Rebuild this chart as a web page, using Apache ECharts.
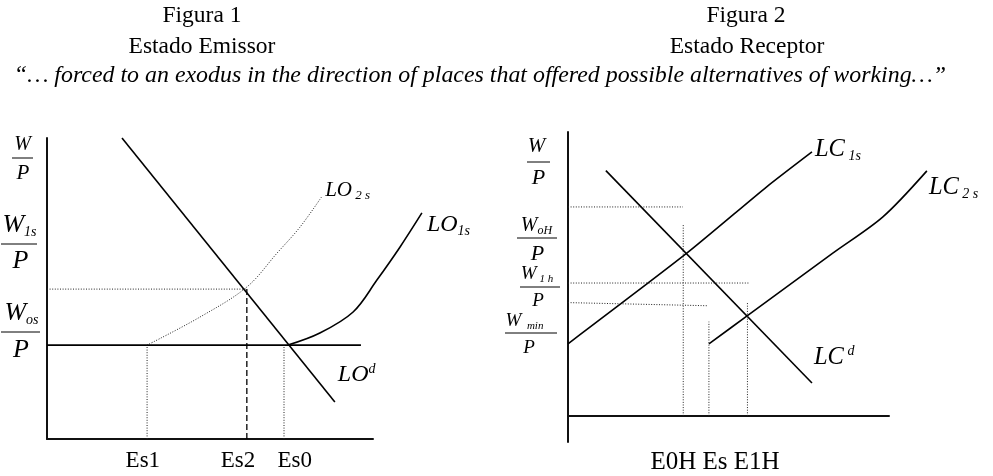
<!DOCTYPE html>
<html>
<head>
<meta charset="utf-8">
<script src="https://cdn.jsdelivr.net/npm/echarts@6/dist/echarts.min.js"></script>
<style>html,body{margin:0;padding:0;background:#fff}#c{width:993px;height:476px}</style>
</head>
<body>
<div id="c"></div>
<script>
// ---------------- DATA ----------------
const titles = ['Figura 1', 'Figura 2'];
const subtitles = ['Estado Emissor', 'Estado Receptor'];
const quote = '\u201C\u2026 forced to an exodus in the direction of places that offered possible alternatives of working\u2026\u201D';

// Figura 1 – Estado Emissor (abstract units, visible axes 0..10)
const fig1Demand = [[2.30, 10.0], [8.83, 1.23]];                 // LO^d
const fig1Supply1 = [[7.39, 3.12], [8.37, 3.52], [9.39, 4.22], [10.12, 5.28], [10.83, 6.38], [11.50, 7.51]]; // LO_1s
const fig1Supply2 = [[3.07, 3.12], [4.69, 4.05], [6.13, 5.05], [7.06, 6.18], [7.76, 7.04], [8.44, 8.07]];    // LO_2s
const fig1WageFloor = [[0, 3.12], [9.63, 3.12]];                  // W_os/P
const fig1W1sLevel = [[0, 4.98], [6.13, 4.98]];                   // W_1s/P
const fig1Es2Line = [[6.13, 0], [6.13, 4.98]];
const fig1Es1Line = [[3.07, 0], [3.07, 3.12]];
const fig1Es0Line = [[7.27, 0], [7.27, 3.12]];
const fig1TickLabels = ['Es1', 'Es2', 'Es0'];
const fig1TickValues = [2.94, 5.86, 7.60];

// Figura 2 – Estado Receptor (abstract units, x 0..10, y -0.92..10)
const fig2Supply1 = [[0, 2.54], [3.71, 5.74], [6.19, 8.07], [7.60, 9.30]];                 // LC_1s
const fig2Supply2 = [[4.39, 2.54], [5.58, 3.52], [8.26, 5.74], [9.81, 7.01], [11.18, 8.63]]; // LC_2s
const fig2Demand = [[1.18, 8.64], [7.60, 1.16]];                                           // LC^d
const fig2TopLevel = [[0, 7.36], [3.58, 7.36]];
const fig2E0HLine = [[3.59, 0], [3.59, 6.73]];
const fig2W1hLevel = [[0, 4.68], [5.62, 4.68]];
const fig2WminLevel = [[0, 3.99], [4.34, 3.88]];
const fig2EsLine = [[4.39, 0], [4.39, 3.32]];
const fig2E1HLine = [[5.59, 0], [5.59, 3.99]];
const fig2TickLabels = ['E0H Es E1H'];
const fig2TickValues = [4.58];

// ---------------- STYLE / BUILD ----------------
const FONT = "'Liberation Serif','Times New Roman',serif";
const solid = { color: '#000', width: 1.6, type: 'solid' };
const dotted = { color: '#222', width: 1, type: [1, 1.6] };
const dashed = { color: '#000', width: 1.3, type: [6, 3] };

// axis index: 0 = Fig.1 visible, 1 = Fig.2 visible, 2 = Fig.1 overlay (wider), 3 = Fig.2 overlay (wider)
function line(data, axis, style, smooth, endLabel) {
  const s = {
    type: 'line', data: data, xAxisIndex: axis, yAxisIndex: axis,
    showSymbol: false, symbol: 'none', smooth: smooth || false, clip: false,
    lineStyle: style, silent: true, z: 3
  };
  if (endLabel) s.endLabel = Object.assign({ show: true, color: '#000' }, endLabel);
  return s;
}
function richLbl(main, sub, size, subSize, sup) {
  return {
    formatter: '{m|' + main + '}{' + (sup ? 'p' : 's') + '|' + sub + '}',
    rich: {
      m: { fontFamily: FONT, fontStyle: 'italic', fontSize: size, color: '#000', lineHeight: size + 2 },
      s: { fontFamily: FONT, fontStyle: 'italic', fontSize: subSize, color: '#000', verticalAlign: 'bottom', lineHeight: subSize + 2 },
      p: { fontFamily: FONT, fontStyle: 'italic', fontSize: subSize, color: '#000', verticalAlign: 'top', lineHeight: subSize + 2 }
    }
  };
}
function frac(nx, ny, sub, nSize, sSize, bx1, bx2, by, px, py, pSize) {
  return [
    { type: 'text', x: nx, y: ny, silent: true, style: {
        text: '{w|W}{s|' + sub + '}', align: 'center', verticalAlign: 'middle',
        rich: {
          w: { fontFamily: FONT, fontStyle: 'italic', fontSize: nSize, fill: '#000', lineHeight: nSize + 2 },
          s: { fontFamily: FONT, fontStyle: 'italic', fontSize: sSize, fill: '#000', verticalAlign: 'bottom', lineHeight: sSize + 2 }
        } } },
    { type: 'line', silent: true, shape: { x1: bx1, y1: by, x2: bx2, y2: by }, style: { stroke: '#000', lineWidth: 1 } },
    { type: 'text', x: px, y: py, silent: true, style: {
        text: 'P', align: 'center', verticalAlign: 'middle', fill: '#000',
        font: 'italic ' + pSize + 'px ' + FONT } }
  ];
}
function plainText(t, x, y, size, italic) {
  return { type: 'text', x: x, y: y, silent: true, style: {
    text: t, align: 'center', verticalAlign: 'middle', fill: '#000',
    font: (italic ? 'italic ' : '') + size + 'px ' + FONT } };
}

const graphics = [].concat(
  plainText(titles[0], 202, 16, 23.5),
  plainText(subtitles[0], 202, 47, 23.5),
  plainText(titles[1], 746, 16, 23.5),
  plainText(subtitles[1], 747, 47, 23.5),
  plainText(quote, 480, 76, 23.9, true),
  // Figura 1 axis fractions
  frac(22.5, 145, '', 20, 12, 12, 33, 158, 23, 173.5, 21),
  frac(19.5, 225, '1s', 26, 14, 1, 37, 244, 20.5, 261, 26),
  frac(21.5, 313.5, 'os', 26, 14, 1, 40, 332, 21, 350, 26),
  // Figura 2 axis fractions
  frac(536.5, 146.5, '', 21, 12, 527, 550, 162, 538.5, 178.5, 22),
  frac(536.5, 226, 'oH', 20, 12, 517, 557, 238, 537.5, 254.5, 22),
  frac(537, 274, ' 1 h', 19, 11, 520, 560, 287, 538, 301, 19),
  frac(524.5, 321, '  min', 19, 11, 505, 557, 333, 529, 347.5, 19)
);

function xAxisFor(grid, min, max, vals, labels, margin, fontSize) {
  return {
    type: 'value', gridIndex: grid, min: min, max: max,
    splitLine: { show: false },
    axisLine: { show: true, onZero: true, lineStyle: { color: '#111', width: 2 } },
    axisTick: { show: false },
    axisLabel: {
      show: true, customValues: vals, margin: margin, color: '#000',
      fontFamily: FONT, fontSize: fontSize,
      formatter: function (v) {
        let best = 0, d = 1e9;
        vals.forEach(function (t, i) { if (Math.abs(t - v) < d) { d = Math.abs(t - v); best = i; } });
        return labels[best];
      }
    }
  };
}
function yAxisFor(grid, min, max) {
  return {
    type: 'value', gridIndex: grid, min: min, max: max,
    splitLine: { show: false },
    axisLine: { show: true, onZero: false, lineStyle: { color: '#111', width: 2 } },
    axisTick: { show: false }, axisLabel: { show: false }
  };
}
function hiddenAxis(grid, min, max) {
  return { type: 'value', gridIndex: grid, min: min, max: max, show: false,
           splitLine: { show: false }, axisLine: { show: false }, axisTick: { show: false }, axisLabel: { show: false } };
}

const option = {
  animation: false,
  backgroundColor: '#fff',
  grid: [
    { left: 47, top: 138, width: 326, height: 301, outerBoundsMode: 'none', containLabel: false },
    { left: 568, top: 132, width: 321, height: 310, outerBoundsMode: 'none', containLabel: false },
    { left: 47, top: 138, width: 326 * 1.2, height: 301, outerBoundsMode: 'none', containLabel: false },
    { left: 568, top: 132, width: 321 * 1.2, height: 310, outerBoundsMode: 'none', containLabel: false }
  ],
  xAxis: [
    xAxisFor(0, 0, 10, fig1TickValues, fig1TickLabels, 10, 23),
    xAxisFor(1, 0, 10, fig2TickValues, fig2TickLabels, 8, 25),
    hiddenAxis(2, 0, 12),
    hiddenAxis(3, 0, 12)
  ],
  yAxis: [
    yAxisFor(0, 0, 10),
    yAxisFor(1, -0.92, 10),
    hiddenAxis(2, 0, 10),
    hiddenAxis(3, -0.92, 10)
  ],
  series: [
    line(fig1Demand, 0, solid, false, Object.assign({ distance: 3, offset: [0, -27] }, richLbl('LO', 'd', 24, 14, true))),
    line(fig1Supply1, 2, solid, 0.35, Object.assign({ distance: 5, offset: [0, 12] }, richLbl('LO', '1s', 24, 14))),
    line(fig1Supply2, 0, dotted, 0.35, Object.assign({ distance: 3, offset: [0, -6] }, richLbl('LO', ' 2 s', 21, 13))),
    line(fig1WageFloor, 0, solid),
    line(fig1W1sLevel, 0, dotted),
    line(fig1Es2Line, 0, dashed),
    line(fig1Es1Line, 0, dotted),
    line(fig1Es0Line, 0, dotted),

    line(fig2Supply1, 1, solid, 0.2, Object.assign({ distance: 3, offset: [0, -2] }, richLbl('LC', ' 1s', 24.5, 14))),
    line(fig2Supply2, 3, solid, 0.3, Object.assign({ distance: 2, offset: [0, 17] }, richLbl('LC', ' 2 s', 24.5, 14))),
    line(fig2Demand, 1, solid, false, Object.assign({ distance: 2, offset: [0, -25] }, richLbl('LC', ' d', 24.5, 14, true))),
    line(fig2TopLevel, 1, dotted),
    line(fig2E0HLine, 1, dotted),
    line(fig2W1hLevel, 1, dotted),
    line(fig2WminLevel, 1, dotted),
    line(fig2EsLine, 1, dotted),
    line(fig2E1HLine, 1, dotted)
  ],
  graphic: graphics
};

const chart = echarts.init(document.getElementById('c'), null, { renderer: 'canvas' });
chart.setOption(option);
</script>
</body>
</html>
